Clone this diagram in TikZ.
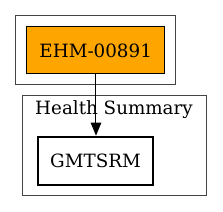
\documentclass[tikz,border=0pt]{standalone}
\usepackage{fontspec}
\setmainfont{DejaVu Serif}
\usetikzlibrary{arrows.meta}
\definecolor{gvorange}{HTML}{FFA500}
\definecolor{clgray}{HTML}{444444}
\begin{document}
\begin{tikzpicture}[x=1pt,y=1pt,
  cluster/.style={draw=clgray,line width=1pt},
  nodebox/.style={draw=black,rectangle,inner sep=0pt,font=\fontsize{18.3}{20}\selectfont}]
\useasboundingbox (0,0) rectangle (223,212);
\draw[cluster] (15.7,196.3) rectangle (175.7,127);
\draw[cluster] (22.7,116) rectangle (206.7,16);
\node[cluster,draw=none,font=\fontsize{18.3}{20}\selectfont] (lbl) at (114,102) {Health Summary};
\node[nodebox,fill=gvorange,line width=1pt,minimum width=138pt,minimum height=47.3pt] (ehm) at (95.7,161.65) {EHM-00891};
\node[nodebox,line width=2pt,minimum width=115.6pt,minimum height=48.3pt] (gm) at (95.5,51.15) {GMTSRM};
\draw[line width=1pt,-{Triangle[length=13pt,width=10.5pt]}] (ehm.south -| 96,0) -- (gm.north -| 96,0);
\end{tikzpicture}
\end{document}
